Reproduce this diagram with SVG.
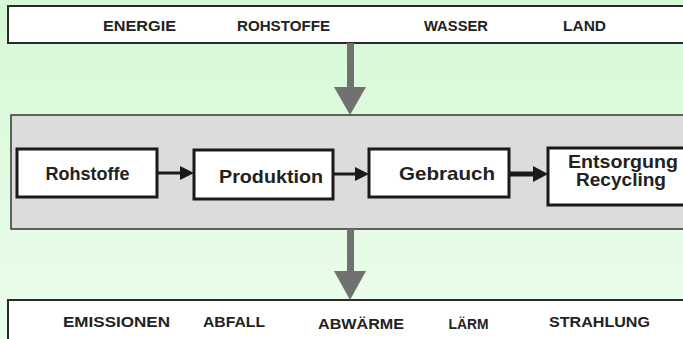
<svg xmlns="http://www.w3.org/2000/svg" width="683" height="339" viewBox="0 0 683 339">
<defs>
<linearGradient id="bg" x1="0" y1="0" x2="0" y2="1">
<stop offset="0" stop-color="#d6f8d6"/>
<stop offset="1" stop-color="#ecfdec"/>
</linearGradient>
<style>
.band{fill:#ffffff;stroke:#2a2a2a;stroke-width:2}
.proc{fill:#dcdcdc;stroke:#333;stroke-width:1.5}
.node{fill:#ffffff;stroke:#1a1a1a;stroke-width:3}
.cap{font-family:"Liberation Sans",Arial,sans-serif;font-weight:bold;font-size:15px;fill:#222;text-anchor:middle}
.lbl{font-family:"Liberation Sans",Arial,sans-serif;font-weight:bold;font-size:19px;fill:#222;text-anchor:middle}
.gshaft{fill:#717171}
.bk{stroke:#1a1a1a;stroke-width:3;fill:none}
</style>
</defs>
<rect x="0" y="0" width="683" height="339" fill="url(#bg)"/>

<g id="inputs">
<rect class="band" x="8" y="6" width="680" height="37"/>
<text class="cap" x="139.5" y="31" textLength="73" lengthAdjust="spacingAndGlyphs">ENERGIE</text>
<text class="cap" x="283.5" y="31" textLength="93" lengthAdjust="spacingAndGlyphs">ROHSTOFFE</text>
<text class="cap" x="456" y="31" textLength="64" lengthAdjust="spacingAndGlyphs">WASSER</text>
<text class="cap" x="584.5" y="31" textLength="43" lengthAdjust="spacingAndGlyphs">LAND</text>
</g>

<g id="lifecycle">
<rect class="proc" x="11" y="115" width="680" height="114"/>
</g>

<g id="n-rohstoffe">
<rect class="node" x="17" y="149" width="140" height="48"/>
<text class="lbl" x="87.5" y="180" textLength="84" lengthAdjust="spacingAndGlyphs">Rohstoffe</text>
</g>
<g id="n-produktion">
<rect class="node" x="194" y="150" width="139" height="49"/>
<text class="lbl" x="271" y="183" textLength="104" lengthAdjust="spacingAndGlyphs">Produktion</text>
</g>
<g id="n-gebrauch">
<rect class="node" x="369" y="149" width="140" height="48"/>
<text class="lbl" x="447" y="180" textLength="96" lengthAdjust="spacingAndGlyphs">Gebrauch</text>
</g>
<g id="n-entsorgung">
<rect class="node" x="548" y="148" width="145" height="57"/>
<text class="lbl" x="623" y="168" textLength="110" lengthAdjust="spacingAndGlyphs" style="font-size:18px">Entsorgung</text>
<text class="lbl" x="621" y="186" textLength="90" lengthAdjust="spacingAndGlyphs" style="font-size:18px">Recycling</text>
</g>

<g id="outputs">
<rect class="band" x="8" y="300" width="680" height="50"/>
<text class="cap" x="116.5" y="327" textLength="107" lengthAdjust="spacingAndGlyphs">EMISSIONEN</text>
<text class="cap" x="234" y="327" textLength="62" lengthAdjust="spacingAndGlyphs">ABFALL</text>
<text class="cap" x="361" y="329" textLength="86" lengthAdjust="spacingAndGlyphs">ABWÄRME</text>
<text class="cap" x="468.5" y="329" textLength="40" lengthAdjust="spacingAndGlyphs">LÄRM</text>
<text class="cap" x="599.5" y="327" textLength="101" lengthAdjust="spacingAndGlyphs">STRAHLUNG</text>
</g>

<g id="connectors">
<rect class="gshaft" x="347" y="43" width="7" height="46"/>
<polygon class="gshaft" points="334,87 366,87 350,115"/>
<rect class="gshaft" x="347" y="229" width="7" height="44"/>
<polygon class="gshaft" points="334,271 366,271 350,300"/>
<line class="bk" x1="157" y1="173" x2="182" y2="173"/>
<polygon fill="#1a1a1a" points="180,166 194,173 180,180"/>
<line class="bk" x1="333" y1="174" x2="357" y2="174"/>
<polygon fill="#1a1a1a" points="355,167 369,174 355,181"/>
<line class="bk" x1="509" y1="174" x2="535" y2="174" style="stroke-width:5"/>
<polygon fill="#1a1a1a" points="533,166 548,174 533,182"/>
</g>
</svg>
